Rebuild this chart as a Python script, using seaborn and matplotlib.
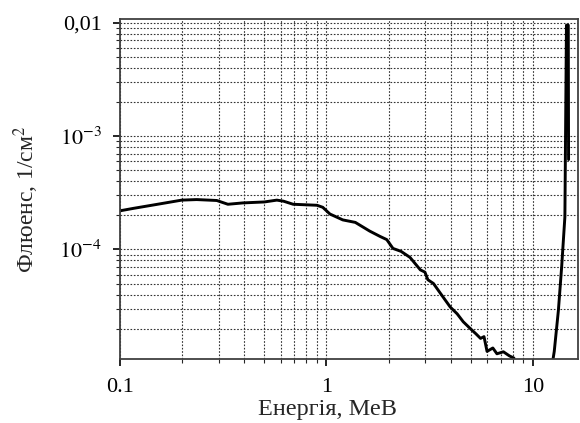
import numpy as np
import pandas as pd
import matplotlib
matplotlib.use("Agg")
import matplotlib.pyplot as plt
import matplotlib.ticker as mticker
import seaborn as sns

# main continuum (MeV, 1/cm^2)
energy_main = [0.100, 0.116, 0.150, 0.199, 0.235, 0.294, 0.333, 0.394, 0.50, 0.575,
               0.62, 0.69, 0.90, 0.96, 1.04, 1.20, 1.38, 1.62, 1.82, 1.96,
               2.10, 2.30, 2.54, 2.85, 3.00, 3.10, 3.30, 3.60, 3.98, 4.30,
               4.60, 4.98, 5.30, 5.58, 5.80, 6.00, 6.40, 6.70, 7.20, 7.70, 8.10]
fluence_main = [2.19e-4, 2.30e-4, 2.49e-4, 2.72e-4, 2.75e-4, 2.70e-4, 2.50e-4, 2.57e-4, 2.62e-4, 2.72e-4,
                2.66e-4, 2.50e-4, 2.45e-4, 2.35e-4, 2.05e-4, 1.82e-4, 1.73e-4, 1.45e-4, 1.30e-4, 1.22e-4,
                1.02e-4, 9.6e-5, 8.5e-5, 6.6e-5, 6.3e-5, 5.4e-5, 5.0e-5, 4.0e-5, 3.1e-5, 2.7e-5,
                2.3e-5, 2.0e-5, 1.8e-5, 1.64e-5, 1.70e-5, 1.26e-5, 1.35e-5, 1.20e-5, 1.25e-5, 1.15e-5, 1.10e-5]

# narrow peak near 14.5 MeV
energy_peak = [12.5, 12.7, 13.3, 13.8, 14.3, 14.55, 14.85, 14.9]
fluence_peak = [1.05e-5, 1.26e-5, 2.9e-5, 7.1e-5, 1.94e-4, 9.5e-3, 9.5e-3, 6.2e-4]

ytick_vals = [1e-4, 1e-3, 1e-2]
ytick_labels = [r"$10^{-4}$", r"$10^{-3}$", "0,01"]
xtick_vals = [0.1, 1, 10]
xtick_labels = ["0.1", "1", "10"]

df_main = pd.DataFrame({"E": energy_main, "F": fluence_main})
df_peak = pd.DataFrame({"E": energy_peak, "F": fluence_peak})

sns.set_theme(style="ticks")
plt.rcParams["font.family"] = ["Liberation Serif", "DejaVu Serif"]
plt.rcParams["mathtext.fontset"] = "stix"

fig = plt.figure(figsize=(5.8, 4.23), dpi=100)
ax = fig.add_axes([0.207, 0.152, 0.790, 0.804])

for d in (df_main, df_peak):
    sns.lineplot(data=d, x="E", y="F", ax=ax, color="black", linewidth=2.1,
                 sort=False, estimator=None)

ax.set_xscale("log")
ax.set_yscale("log")
ax.set_xlim(0.1, 16.6)
ax.set_ylim(1.086e-5, 0.01085)

ax.xaxis.set_major_locator(mticker.FixedLocator(xtick_vals))
ax.xaxis.set_major_formatter(mticker.FixedFormatter(xtick_labels))
ax.xaxis.set_minor_locator(mticker.LogLocator(base=10, subs=np.arange(2, 10)))
ax.xaxis.set_minor_formatter(mticker.NullFormatter())
ax.yaxis.set_major_locator(mticker.FixedLocator(ytick_vals))
ax.yaxis.set_major_formatter(mticker.FixedFormatter(ytick_labels))
ax.yaxis.set_minor_locator(mticker.LogLocator(base=10, subs=np.arange(2, 10)))
ax.yaxis.set_minor_formatter(mticker.NullFormatter())

ax.grid(True, which="both", linestyle=(0, (1.5, 1.5)), color="0.2", linewidth=0.8)
ax.tick_params(which="major", direction="out", length=5, width=1.2, labelsize=16, colors="black")
ax.tick_params(which="minor", direction="out", length=3, width=0.8)
ax.tick_params(axis="y", pad=8)
ax.tick_params(axis="x", pad=9)
for s in ax.spines.values():
    s.set_linewidth(1.3)
    s.set_color("0.25")

ax.set_xlabel("Енергія, МеВ", fontsize=17.5)
ax.xaxis.set_label_coords(0.452, -0.118)
ax.set_ylabel("Флюенс, 1/см$^2$", fontsize=17)
ax.yaxis.set_label_coords(-0.172, 0.47)

plt.savefig("out.png", dpi=100)
plt.close()
